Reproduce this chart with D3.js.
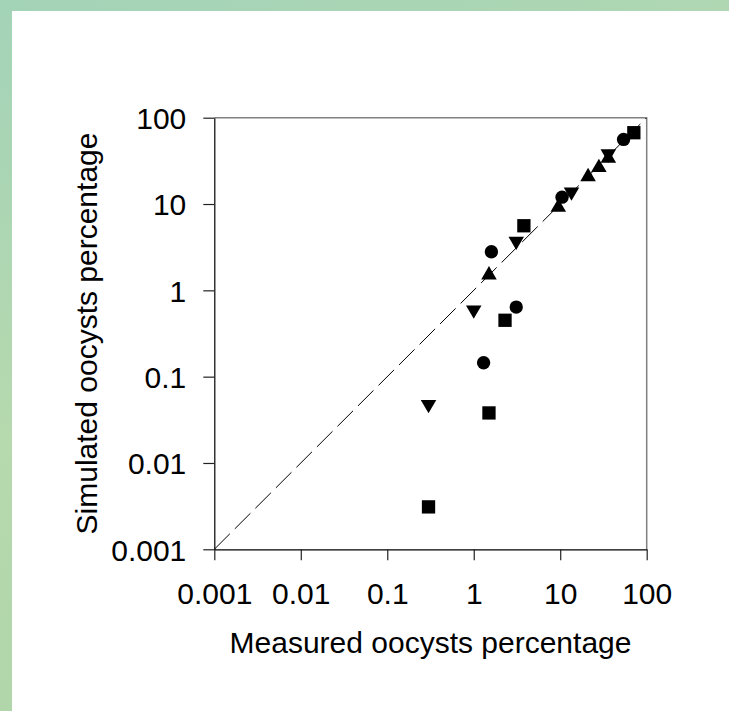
<!DOCTYPE html>
<html>
<head>
<meta charset="utf-8">
<script src="https://cdn.jsdelivr.net/npm/d3@7"></script>
<style>
  html, body { margin: 0; padding: 0; }
  body {
    width: 729px; height: 711px; overflow: hidden;
    background: linear-gradient(160deg, #a3d3b8 0%, #b6d9ae 45%, #acd3a6 100%);
  }
  .canvas { position: absolute; left: 12px; top: 11px; width: 717px; height: 700px; background: #fff; }
  svg { position: absolute; left: 0; top: 0; }
  text { font-family: "Liberation Sans", Arial, sans-serif; fill: #000; }
</style>
</head>
<body>
<div class="canvas"></div>
<svg id="chart" width="729" height="711"></svg>
<script>
// values (measured %, simulated %)
const circleX = [1.3, 3.1, 1.6, 10.5, 54];
const circleY = [0.145, 0.64, 2.8, 12, 56];
const squareX = [0.30, 1.5, 2.3, 3.8, 71];
const squareY = [0.0031, 0.038, 0.45, 5.6, 67];
const triUpX = [1.5, 9.5, 21, 28, 36];
const triUpY = [1.6, 9.7, 22, 28, 36];
const triDownX = [0.30, 1.0, 3.1, 13.5, 36];
const triDownY = [0.045, 0.56, 3.5, 13, 36];

const tickValues = [0.001, 0.01, 0.1, 1, 10, 100];
const tickLabels = ['0.001', '0.01', '0.1', '1', '10', '100'];
const axisDomain = [0.001, 100];

const dims = { left: 214.3, right: 646.7, top: 117.7, bottom: 549.3 };

const svg = d3.select('#chart');

const x = d3.scaleLog()
  .domain(axisDomain)
  .range([dims.left, dims.right]);

const y = d3.scaleLog()
  .domain(axisDomain)
  .range([dims.bottom, dims.top]);

const fmt = d => tickLabels[tickValues.indexOf(d)];

// top / right frame (grey)
svg.append('line')
  .attr('x1', dims.left).attr('x2', dims.right)
  .attr('y1', dims.top).attr('y2', dims.top)
  .attr('stroke', '#808080').attr('stroke-width', 1.5);
svg.append('line')
  .attr('x1', dims.right).attr('x2', dims.right)
  .attr('y1', dims.top).attr('y2', dims.bottom)
  .attr('stroke', '#808080').attr('stroke-width', 1.5);

// 1:1 line
svg.append('line')
  .attr('x1', x(axisDomain[0])).attr('y1', y(axisDomain[0]))
  .attr('x2', x(axisDomain[1])).attr('y2', y(axisDomain[1]))
  .attr('stroke', '#000')
  .attr('stroke-width', 1)
  .attr('stroke-dasharray', '22 7');

const xAxis = svg.append('g')
  .attr('transform', `translate(0, ${dims.bottom})`)
  .call(d3.axisBottom(x).tickValues(tickValues).tickFormat(fmt).tickSize(11).tickSizeOuter(0).tickPadding(22));

const yAxis = svg.append('g')
  .attr('transform', `translate(${dims.left}, 0)`)
  .call(d3.axisLeft(y).tickValues(tickValues).tickFormat(fmt).tickSize(11).tickSizeOuter(0).tickPadding(17));

[xAxis, yAxis].forEach(g => {
  g.selectAll('path.domain').attr('stroke', '#000').attr('stroke-width', 1.2);
  g.selectAll('.tick line').attr('stroke', '#222').attr('stroke-width', 1.2);
  g.selectAll('.tick text')
    .style('font-family', '"Liberation Sans", Arial, sans-serif')
    .style('font-size', '30px')
    .attr('fill', '#000');
});
yAxis.selectAll('.tick text').attr('dy', '0.36em');

svg.append('text')
  .attr('x', (dims.left + dims.right) / 2)
  .attr('y', 653)
  .attr('text-anchor', 'middle')
  .style('font-size', '30px')
  .text('Measured oocysts percentage');

svg.append('text')
  .attr('transform', `translate(97, ${(dims.top + dims.bottom) / 2}) rotate(-90)`)
  .attr('text-anchor', 'middle')
  .style('font-size', '30px')
  .text('Simulated oocysts percentage');

// marker shapes (triangles centred on their box)
const triUp = {
  draw(ctx, size) {
    const w = Math.sqrt(size * 2.3), h = w * 0.86;
    ctx.moveTo(0, -h / 2); ctx.lineTo(w / 2, h / 2); ctx.lineTo(-w / 2, h / 2); ctx.closePath();
  }
};
const triDown = {
  draw(ctx, size) {
    const w = Math.sqrt(size * 2.3), h = w * 0.86;
    ctx.moveTo(0, h / 2); ctx.lineTo(w / 2, -h / 2); ctx.lineTo(-w / 2, -h / 2); ctx.closePath();
  }
};

const series = [
  { xs: circleX, ys: circleY, type: d3.symbolCircle, size: 140 },
  { xs: squareX, ys: squareY, type: d3.symbolSquare, size: 177 },
  { xs: triUpX, ys: triUpY, type: triUp, size: 105 },
  { xs: triDownX, ys: triDownY, type: triDown, size: 105 }
];

series.forEach(s => {
  svg.append('g')
    .selectAll('path')
    .data(s.xs.map((v, i) => [v, s.ys[i]]))
    .enter()
    .append('path')
      .attr('d', d3.symbol().type(s.type).size(s.size))
      .attr('transform', d => `translate(${x(d[0])}, ${y(d[1])})`)
      .attr('fill', '#000');
});
</script>
</body>
</html>
